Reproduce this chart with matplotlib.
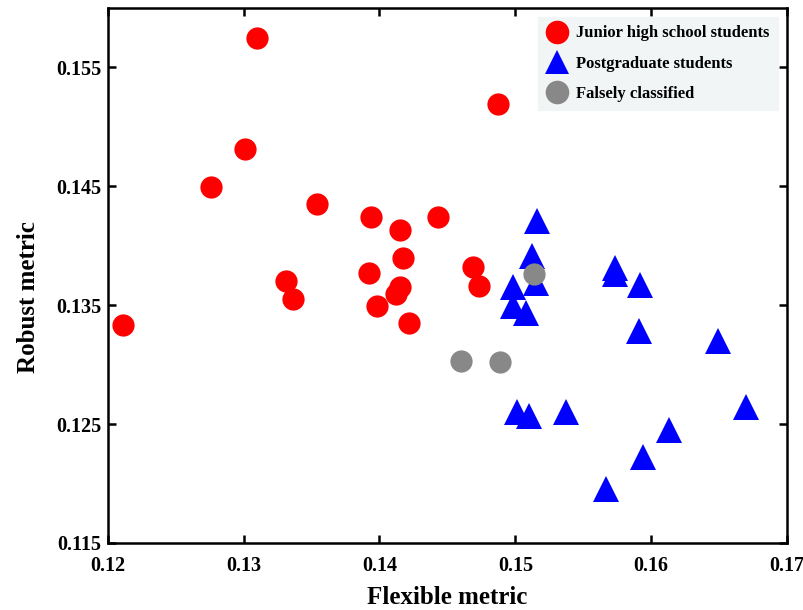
import matplotlib.pyplot as plt
import numpy as np

plt.rcParams['font.family'] = ['Liberation Serif', 'DejaVu Serif']
plt.rcParams['font.weight'] = 'bold'

# Junior high school students (red circles)
junior_x = [0.1211, 0.1310, 0.1301, 0.1276, 0.1354, 0.1331, 0.1336, 0.1394, 0.1415, 0.1443,
            0.1417, 0.1392, 0.1415, 0.1412, 0.1398, 0.1422, 0.1487, 0.1469, 0.1473]
junior_y = [0.1333, 0.1575, 0.1481, 0.1449, 0.1435, 0.1370, 0.1355, 0.1424, 0.1413, 0.1424,
            0.1390, 0.1377, 0.1365, 0.1359, 0.1349, 0.1335, 0.1519, 0.1382, 0.1366]

# Postgraduate students (blue triangles)
post_x = [0.1516, 0.1512, 0.1515, 0.1498, 0.1498, 0.1508, 0.1573, 0.1573, 0.1592, 0.1591,
          0.1649, 0.1501, 0.1510, 0.1537, 0.1670, 0.1613, 0.1594, 0.1567]
post_y = [0.1421, 0.1391, 0.1369, 0.1365, 0.1349, 0.1343, 0.1381, 0.1376, 0.1367, 0.1328,
          0.1320, 0.1260, 0.1257, 0.1260, 0.1264, 0.1245, 0.1222, 0.1195]

# Falsely classified (gray circles)
false_x = [0.1514, 0.1460, 0.1489]
false_y = [0.1376, 0.1303, 0.1302]

xticks = [0.12, 0.13, 0.14, 0.15, 0.16, 0.17]
yticks = [0.115, 0.125, 0.135, 0.145, 0.155]

fig = plt.figure(figsize=(8.04, 6.10), dpi=100)
ax = fig.add_axes([0.134, 0.110, 0.845, 0.877])

ax.plot(junior_x, junior_y, 'o', color='#ff0000', markersize=16, markeredgewidth=0,
        label='Junior high school students')
ax.plot(post_x, post_y, '^', color='#0000ff', markersize=19, markeredgewidth=0,
        label='Postgraduate students')
ax.plot(false_x, false_y, 'o', color='#888888', markersize=16, markeredgewidth=0,
        label='Falsely classified')

ax.set_xlim(0.12, 0.17)
ax.set_ylim(0.115, 0.160)
ax.set_xticks(xticks)
ax.set_xticklabels(['0.12', '0.13', '0.14', '0.15', '0.16', '0.17'])
ax.set_yticks(yticks)
ax.set_yticklabels(['0.115', '0.125', '0.135', '0.145', '0.155'])

ax.tick_params(direction='in', length=6, width=1.8, labelsize=14.5,
               top=True, right=True)
ax.tick_params(axis='x', pad=9.5)
ax.tick_params(axis='y', pad=4.5)
for s in ax.spines.values():
    s.set_linewidth(1.8)

ax.set_xlabel('Flexible metric', fontsize=18, fontweight='bold', labelpad=7)
ax.set_ylabel('Robust metric', fontsize=18, fontweight='bold', labelpad=12)
ax.yaxis.label.set_y(0.46)

leg = ax.legend(loc='upper right', fontsize=12, frameon=True, fancybox=False,
                borderaxespad=0.55, handletextpad=0.5, labelspacing=0.85,
                handlelength=1.3, borderpad=0.5)
leg.get_frame().set_facecolor('#f1f5f5')
leg.get_frame().set_edgecolor('#f1f5f5')
leg.get_frame().set_alpha(1)
for h in leg.legend_handles:
    h.set_markersize(17)

fig.savefig('out.png', dpi=100)
